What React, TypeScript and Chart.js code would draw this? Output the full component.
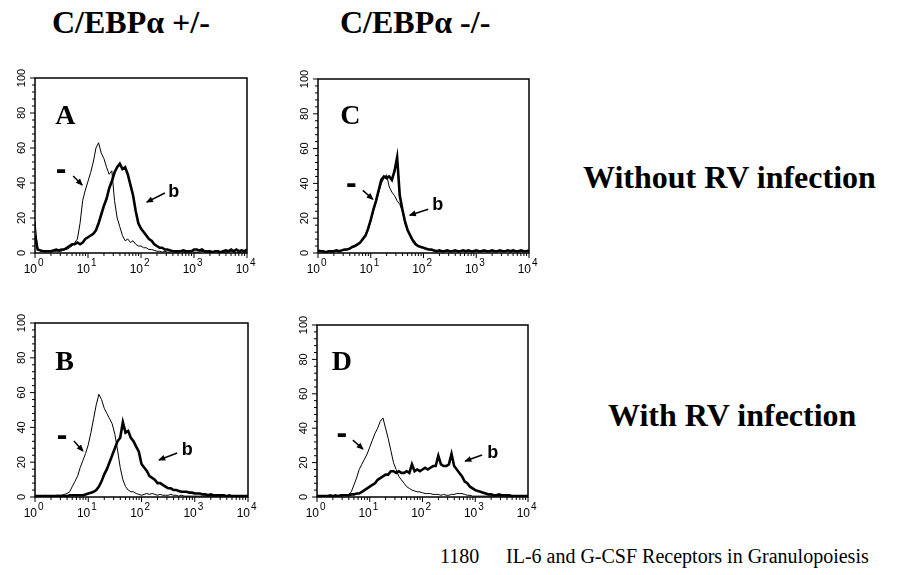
import { useEffect, useRef } from "react";
import { Chart, registerables } from "chart.js";

Chart.register(...registerables);

// x positions in decades of fluorescence (10^0 .. 10^4)
const DECADES = [
  0, 0.05, 0.1, 0.15, 0.2, 0.25, 0.3, 0.35, 0.4, 0.45,
  0.5, 0.55, 0.6, 0.65, 0.7, 0.75, 0.8, 0.85, 0.9, 0.95,
  1, 1.05, 1.1, 1.15, 1.2, 1.25, 1.3, 1.35, 1.4, 1.45,
  1.5, 1.55, 1.6, 1.65, 1.7, 1.75, 1.8, 1.85, 1.9, 1.95,
  2, 2.05, 2.1, 2.15, 2.2, 2.25, 2.3, 2.35, 2.4, 2.45,
  2.5, 2.55, 2.6, 2.65, 2.7, 2.75, 2.8, 2.85, 2.9, 2.95,
  3, 3.05, 3.1, 3.15, 3.2, 3.25, 3.3, 3.35, 3.4, 3.45,
  3.5, 3.55, 3.6, 3.65, 3.7, 3.75, 3.8, 3.85, 3.9, 3.95,
  4,
];

const X_MAJOR = [0, 1, 2, 3, 4];
const X_MAJOR_LABELS = ["0", "1", "2", "3", "4"];
const X_MINOR_FACTORS = [2, 3, 4, 5, 6, 7, 8, 9];
const Y_MAJOR = [0, 20, 40, 60, 80, 100];
const Y_MINOR = [4, 8, 12, 16, 24, 28, 32, 36, 44, 48, 52, 56, 64, 68, 72, 76, 84, 88, 92, 96];

// Panel A: C/EBPa +/-, without RV
const A_CONTROL = [
  18, 2, 1, 1, 1, 1, 1, 1, 1, 1,
  1, 2, 2, 3, 4, 6, 8, 17, 30, 36,
  41, 46, 52, 60, 63, 57, 54, 49, 45, 47,
  30, 20, 15, 10, 7, 8, 6, 7, 5, 4,
  4, 3, 3, 2, 2, 1.5, 1, 1, 0.5, 1,
  0.5, 0.5, 1, 0.5, 0.5, 1, 0.5, 0.5, 0.5, 1,
  0.5, 0.5, 0.5, 1, 0.5, 0.5, 0.5, 0.5, 1, 0.5,
  0.5, 0.5, 0.5, 0.5, 1, 0.5, 0.5, 0.5, 0.5, 0.5,
  0.5,
];
const A_ANTIBODY = [
  10, 2, 1.5, 1, 1, 1, 1, 1.5, 2, 1.5,
  2, 2, 3, 4, 5, 5, 6, 5, 6, 8,
  9, 10, 11, 13, 17, 22, 27, 31, 37, 41,
  46, 49, 51, 48, 49, 45, 39, 33, 24, 17,
  14, 12, 10, 8, 7, 5, 4, 3, 3, 2,
  2, 1.5, 1, 1, 1, 1, 1.5, 1, 1, 1,
  2, 2, 1.5, 2, 1, 1, 1, 0.5, 1, 1,
  0.5, 1, 1.5, 1, 2, 1, 2, 1, 1.5, 1,
  2,
];

// Panel C: C/EBPa -/-, without RV
const C_CONTROL = [
  1, 1, 0.5, 0.5, 1, 0.5, 1, 1, 1, 1.5,
  1.5, 2, 3, 3.5, 4.5, 5, 6, 8, 10, 13,
  19, 24, 29, 35, 40, 43, 45, 38, 35, 33,
  30, 28, 24, 17, 13, 10, 8, 6, 4, 3.5,
  3, 2, 2, 1.5, 1, 1.5, 1, 1, 1.5, 1,
  1, 1.5, 1, 1, 1, 1.5, 1, 1, 1, 1.5,
  1, 1, 1.5, 1, 1, 1, 1, 1.5, 1, 1,
  1, 1, 1.5, 1, 1, 1, 1.5, 1, 1, 1,
  1,
];
const C_ANTIBODY = [
  1.5, 1, 1, 0.5, 1, 1, 1, 1.5, 1, 1.5,
  2, 2, 2.5, 3.5, 4, 5, 6, 8, 10, 14,
  19, 25, 30, 36, 42, 44, 43, 44, 42, 47,
  55, 33, 25, 18, 13, 10, 7, 5, 4, 3.5,
  3, 2.5, 2, 2, 1.5, 1, 1.5, 1, 1, 1.5,
  1, 1, 1.5, 1, 1, 1.5, 1, 1.5, 1, 1,
  1.5, 1, 1, 1.5, 1, 1, 1.5, 1, 1, 1.5,
  1, 1, 1.5, 1, 1.5, 1, 1, 1.5, 1, 1,
  1.5,
];

// Panel B: C/EBPa +/-, with RV
const B_CONTROL = [
  0.5, 0.5, 0.5, 0.5, 1, 0.5, 1, 0.5, 1, 1,
  1, 1.5, 2, 3, 6, 9, 12, 17, 21, 25,
  30, 37, 45, 53, 59, 56, 51, 48, 45, 42,
  36, 27, 17, 10, 6, 4, 3, 3, 2, 1.5,
  1, 1.5, 2, 1.5, 2, 1.5, 1, 1.5, 1, 1,
  1, 1.5, 1, 1, 0.5, 1, 0.5, 0.5, 0.5, 0.5,
  0.5, 0.5, 0.5, 0.5, 0.5, 0.5, 0.5, 0.5, 0.5, 0.5,
  0.5, 0.5, 0.5, 0.5, 0.5, 0.5, 0.5, 0.5, 0.5, 0.5,
  0.5,
];
const B_ANTIBODY = [
  0.5, 0.5, 0.5, 0.5, 0.5, 0.5, 0.5, 0.5, 0.5, 0.5,
  0.5, 0.5, 0.5, 1, 1, 1, 1, 1, 1, 1.5,
  2, 2.5, 3, 4, 6, 9, 13, 16, 20, 24,
  28, 32, 34, 43, 37, 38, 34, 32, 29, 26,
  19, 17, 15, 12, 11, 10, 8, 8, 7, 6,
  5, 5, 4, 4, 3.5, 3, 3, 3, 2.5, 2.5,
  2, 2, 2, 1.5, 1.5, 1, 1.5, 1, 1, 1,
  1, 1, 0.5, 1, 0.5, 0.5, 0.5, 0.5, 0.5, 0.5,
  0.5,
];

// Panel D: C/EBPa -/-, with RV
const D_CONTROL = [
  0.5, 0.5, 0.5, 0.5, 0.5, 0.5, 0.5, 0.5, 1, 0.5,
  1, 1, 1.5, 3, 7, 11, 16, 19, 22, 25,
  29, 33, 37, 40, 44, 46, 40, 34, 27, 20,
  16, 12, 10, 8, 6, 5, 4, 3.5, 3, 3,
  2.5, 2, 2, 2, 1.5, 1.5, 1.5, 1, 1.5, 1,
  1, 1.5, 1.5, 2, 2, 2, 1.5, 1, 1, 0.5,
  0.5, 0.5, 0.5, 0.5, 0.5, 0.5, 0.5, 0.5, 0.5, 0.5,
  0.5, 0.5, 0.5, 0.5, 0.5, 0.5, 0.5, 0.5, 0.5, 0.5,
  0.5,
];
const D_ANTIBODY = [
  0.5, 0.5, 0.5, 0.5, 0.5, 1, 0.5, 1, 0.5, 1,
  1, 1, 1, 1.5, 1.5, 2, 2, 3, 4, 5,
  6, 7, 8, 10, 11, 12, 13, 13, 15, 15,
  14, 15, 14, 14, 15, 14, 19, 15, 16, 15,
  16, 17, 16, 17, 18, 18, 24, 19, 18, 18,
  19, 25, 18, 16, 14, 12, 9, 8, 6, 5,
  4, 3.5, 3, 2.5, 2, 1.5, 1.5, 1, 1, 1.5,
  1, 1, 1, 1, 0.5, 0.5, 0.5, 0.5, 0.5, 0.5,
  0.5,
];

type Notes = {
  letter: string;
  letterAt: [number, number];
  dashAt: [number, number];
  dashArrow: [number, number, number, number];
  bAt: [number, number];
  bArrow: [number, number, number, number];
};

const NOTES_A: Notes = {
  letter: "A", letterAt: [0.38, 74],
  dashAt: [0.49, 47], dashArrow: [0.72, 44, 0.89, 38.9],
  bAt: [2.62, 36], bArrow: [2.45, 34.3, 2.11, 29.1],
};
const NOTES_C: Notes = {
  letter: "C", letterAt: [0.42, 74],
  dashAt: [0.63, 39.4], dashArrow: [0.85, 36, 1.04, 30.9],
  bAt: [2.27, 28.6], bArrow: [2.09, 25.1, 1.74, 21.7],
};
const NOTES_B: Notes = {
  letter: "B", letterAt: [0.38, 73],
  dashAt: [0.51, 34.8], dashArrow: [0.73, 32.2, 0.9, 26.4],
  bAt: [2.86, 27.9], bArrow: [2.67, 25.3, 2.33, 21.3],
};
const NOTES_D: Notes = {
  letter: "D", letterAt: [0.28, 74],
  dashAt: [0.47, 36.6], dashArrow: [0.68, 33.1, 0.87, 27.9],
  bAt: [3.33, 26.7], bArrow: [3.13, 24.4, 2.81, 20.9],
};

const PL = 32, PR = 12, PT = 12, PB = 30;

function makeFrame(notes: Notes) {
  return {
    id: "frame",
    afterDraw(chart: any) {
      const { ctx, chartArea: a } = chart;
      const x = chart.scales.x;
      const y = chart.scales.y;
      const px = (d: number) => x.getPixelForValue(d);
      const py = (v: number) => y.getPixelForValue(v);
      ctx.save();
      ctx.strokeStyle = "#000";
      ctx.fillStyle = "#000";
      ctx.lineWidth = 1.5;
      ctx.strokeRect(a.left, a.top, a.right - a.left, a.bottom - a.top);
      ctx.lineWidth = 1;
      const line = (x1: number, y1: number, x2: number, y2: number) => {
        ctx.beginPath();
        ctx.moveTo(x1, y1);
        ctx.lineTo(x2, y2);
        ctx.stroke();
      };
      // x ticks
      X_MAJOR.forEach((d) => line(px(d), a.bottom, px(d), a.bottom + 5));
      for (let k = 0; k < 4; k++) {
        X_MINOR_FACTORS.forEach((f) => {
          const p = px(k + Math.log10(f));
          line(p, a.bottom, p, a.bottom + 3);
        });
      }
      X_MAJOR.forEach((d, i) => {
        const p = px(d);
        ctx.font = "12px 'Liberation Sans'";
        ctx.textAlign = "right";
        ctx.textBaseline = "alphabetic";
        ctx.fillText("10", p + 2, a.bottom + 20);
        ctx.font = "10px 'Liberation Sans'";
        ctx.textAlign = "left";
        ctx.fillText(X_MAJOR_LABELS[i], p + 3, a.bottom + 13);
      });
      // y ticks
      Y_MINOR.forEach((v) => line(a.left - 3, py(v), a.left, py(v)));
      Y_MAJOR.forEach((v) => line(a.left - 5, py(v), a.left, py(v)));
      ctx.font = "11px 'Liberation Sans'";
      ctx.textAlign = "center";
      ctx.textBaseline = "middle";
      Y_MAJOR.forEach((v) => {
        ctx.save();
        ctx.translate(a.left - 13, py(v));
        ctx.rotate(-Math.PI / 2);
        ctx.fillText(String(v), 0, 0);
        ctx.restore();
      });
      // panel letter
      ctx.font = "bold 28px 'Liberation Serif'";
      ctx.textAlign = "left";
      ctx.textBaseline = "alphabetic";
      ctx.fillText(notes.letter, px(notes.letterAt[0]), py(notes.letterAt[1]));
      // control mark
      ctx.font = "bold 32px 'Liberation Sans'";
      ctx.textAlign = "center";
      ctx.fillText("-", px(notes.dashAt[0]), py(notes.dashAt[1]) + 8.5);
      // antibody mark
      ctx.font = "bold 18px 'Liberation Sans'";
      ctx.fillText("b", px(notes.bAt[0]), py(notes.bAt[1]) + 6.5);
      // arrows
      const arrow = (r: [number, number, number, number]) => {
        const x1 = px(r[0]), y1 = py(r[1]), x2 = px(r[2]), y2 = py(r[3]);
        ctx.lineWidth = 1.5;
        line(x1, y1, x2, y2);
        const ang = Math.atan2(y2 - y1, x2 - x1);
        const L = 6, W = 3;
        ctx.beginPath();
        ctx.moveTo(x2 + Math.cos(ang) * 1, y2 + Math.sin(ang) * 1);
        ctx.lineTo(x2 - Math.cos(ang) * L - Math.sin(ang) * W, y2 - Math.sin(ang) * L + Math.cos(ang) * W);
        ctx.lineTo(x2 - Math.cos(ang) * L + Math.sin(ang) * W, y2 - Math.sin(ang) * L - Math.cos(ang) * W);
        ctx.closePath();
        ctx.fill();
      };
      arrow(notes.dashArrow);
      arrow(notes.bArrow);
      ctx.restore();
    },
  };
}

type PanelProps = {
  left: number; top: number; w: number; h: number;
  control: number[]; antibody: number[]; notes: Notes;
};

function Panel({ left, top, w, h, control, antibody, notes }: PanelProps) {
  const ref = useRef<HTMLCanvasElement>(null);
  useEffect(() => {
    const chart = new Chart(ref.current as HTMLCanvasElement, {
      type: "line",
      data: {
        datasets: [
          {
            label: "-",
            data: DECADES.map((d, i) => ({ x: d, y: control[i] })),
            borderColor: "#000",
            borderWidth: 1,
            pointRadius: 0,
            tension: 0,
            fill: false,
          },
          {
            label: "b",
            data: DECADES.map((d, i) => ({ x: d, y: antibody[i] })),
            borderColor: "#000",
            borderWidth: 2.6,
            pointRadius: 0,
            tension: 0,
            fill: false,
          },
        ],
      },
      options: {
        animation: false,
        responsive: false,
        maintainAspectRatio: false,
        events: [],
        layout: { padding: { left: PL, right: PR, top: PT, bottom: PB } },
        scales: {
          x: { type: "linear", min: 0, max: 4, display: false },
          y: { type: "linear", min: 0, max: 100, display: false },
        },
        plugins: { legend: { display: false }, tooltip: { enabled: false } },
      },
      plugins: [makeFrame(notes)],
    } as any);
    return () => chart.destroy();
  }, []);
  const cw = w + PL + PR;
  const ch = h + PT + PB;
  return (
    <canvas
      ref={ref}
      width={cw}
      height={ch}
      style={{ position: "absolute", left: left - PL, top: top - PT, width: cw, height: ch }}
    />
  );
}

function Label({ text, left, baseline, size, bold }: { text: string; left: number; baseline: number; size: number; bold?: boolean }) {
  return (
    <div
      style={{
        position: "absolute",
        left,
        top: baseline - 0.8375 * size,
        fontFamily: "'Liberation Serif', serif",
        fontWeight: bold ? "bold" : "normal",
        fontSize: size,
        lineHeight: `${size}px`,
        whiteSpace: "nowrap",
        color: "#000",
      }}
    >
      {text}
    </div>
  );
}

export default function App() {
  return (
    <div style={{ position: "absolute", left: 0, top: 0, width: 904, height: 575, background: "#fff", overflow: "hidden" }}>
      <Label text="C/EBPα +/-" left={52} baseline={33} size={32} bold />
      <Label text="C/EBPα -/-" left={340} baseline={33} size={32} bold />
      <Panel left={35} top={78} w={212} h={175} control={A_CONTROL} antibody={A_ANTIBODY} notes={NOTES_A} />
      <Panel left={318} top={79} w={211} h={174} control={C_CONTROL} antibody={C_ANTIBODY} notes={NOTES_C} />
      <Panel left={35} top={323} w={213} h={174} control={B_CONTROL} antibody={B_ANTIBODY} notes={NOTES_B} />
      <Panel left={317} top={325} w={211} h={172} control={D_CONTROL} antibody={D_ANTIBODY} notes={NOTES_D} />
      <Label text="Without RV infection" left={583} baseline={188} size={32} bold />
      <Label text="With RV infection" left={608} baseline={426} size={32} bold />
      <Label text="1180" left={440} baseline={563} size={20} />
      <Label text="IL-6 and G-CSF Receptors in Granulopoiesis" left={506} baseline={563} size={20} />
    </div>
  );
}
